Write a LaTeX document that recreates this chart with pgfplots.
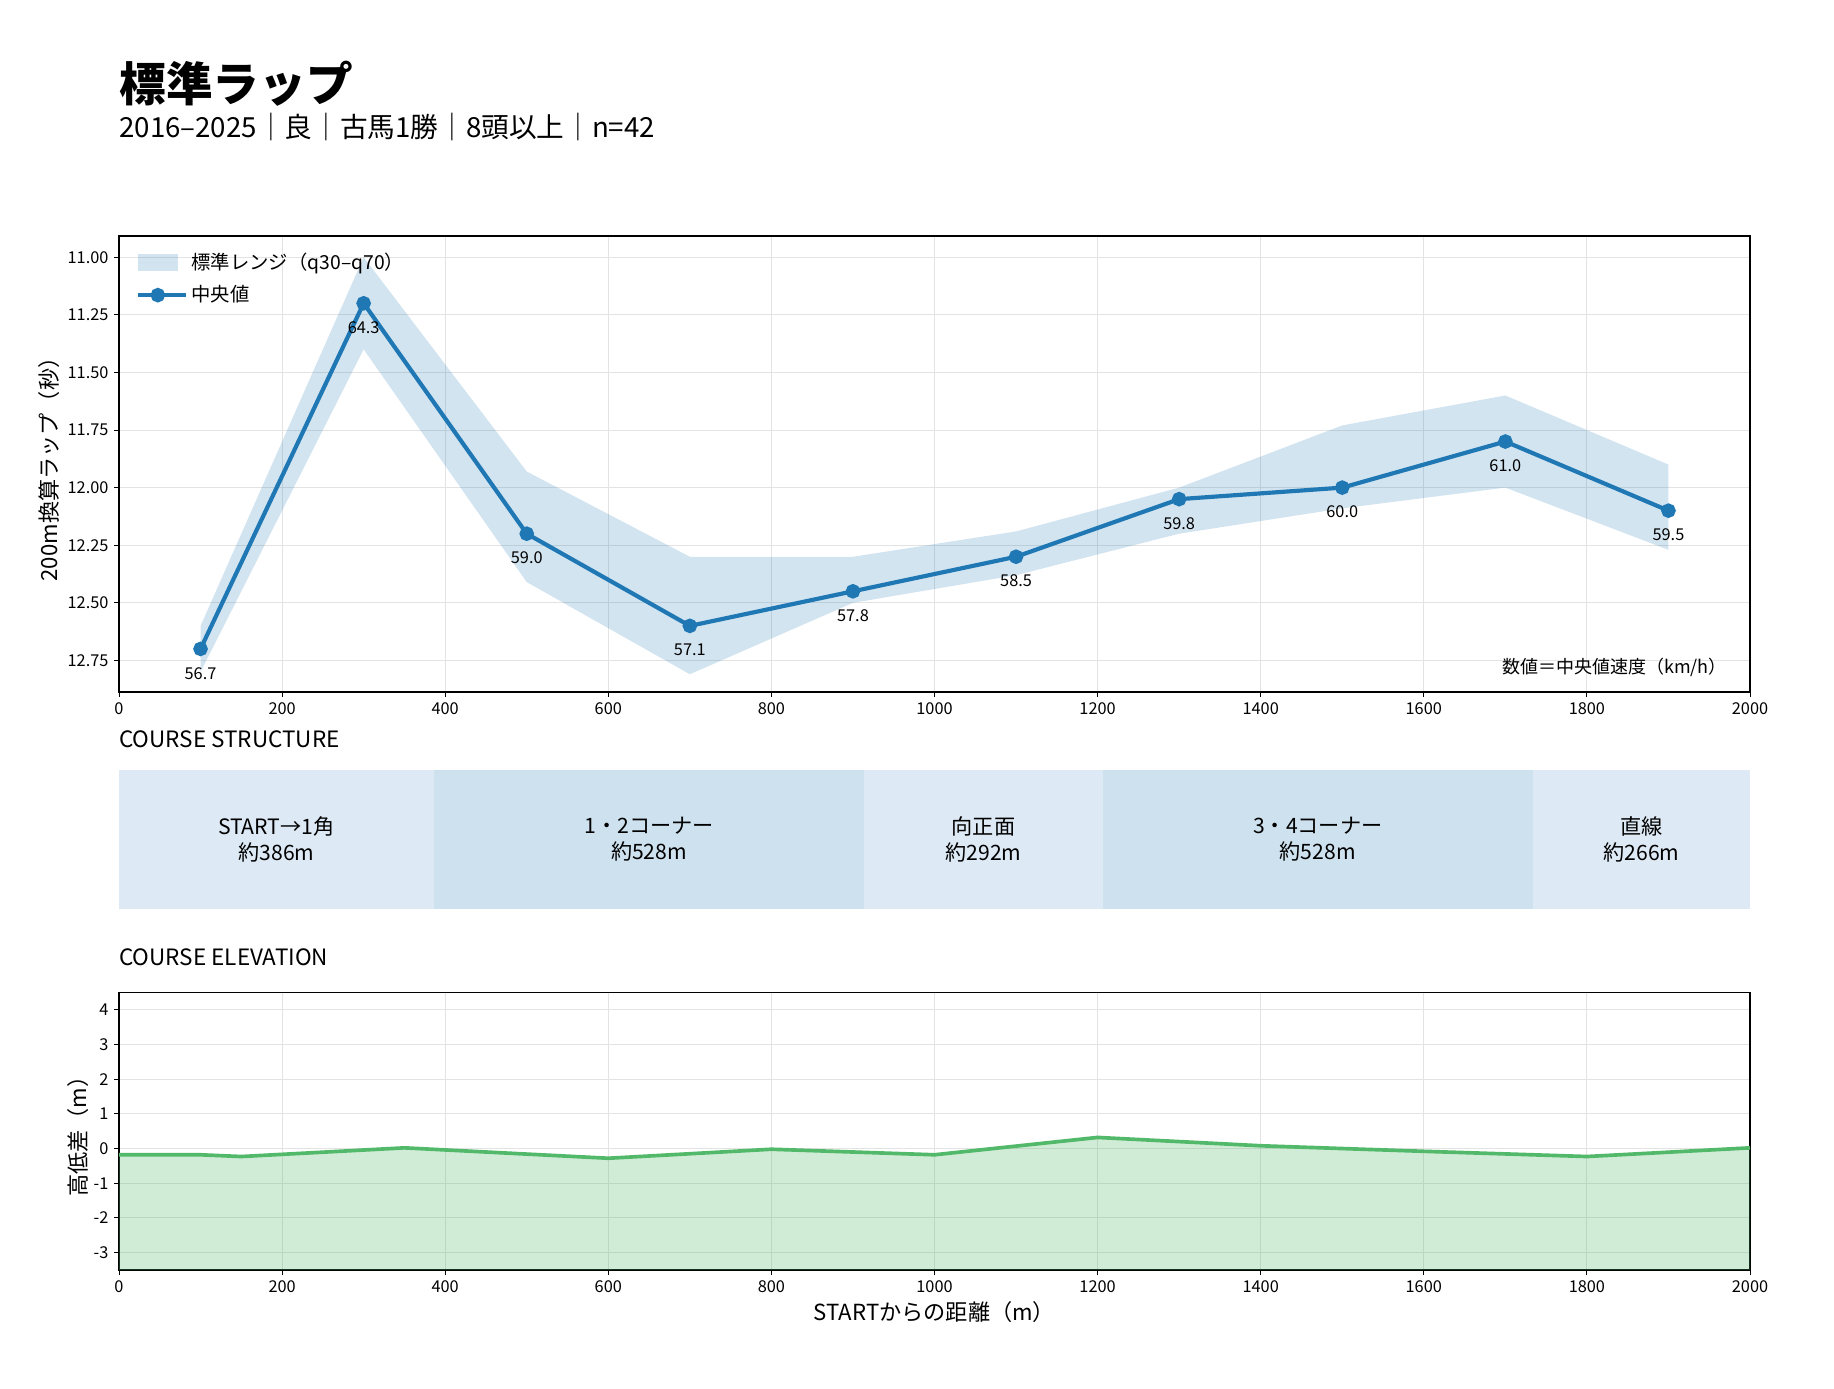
\documentclass[border=0pt]{standalone}
\usepackage{fontspec}
\setmainfont{Noto Sans CJK JP}
\usepackage{pgfplots}
\usepackage{pgfplotstable}
\pgfplotsset{compat=1.18}
\usepgfplotslibrary{fillbetween}

\definecolor{tabblue}{HTML}{1F77B4}
\definecolor{segA}{HTML}{DDE9F4}
\definecolor{segB}{HTML}{CEE1EE}
\definecolor{elev}{HTML}{52B96A}
\definecolor{gridc}{HTML}{E3E3E3}

% lap data: q30 (lo), q70 (hi), median, median speed
\pgfplotstableread{
x    lo     hi     med    spd
100  12.60  12.80  12.70  56.7
300  11.00  11.40  11.20  64.3
500  11.93  12.41  12.20  59.0
700  12.30  12.81  12.60  57.1
900  12.30  12.50  12.45  57.8
1100 12.19  12.38  12.30  58.5
1300 12.00  12.20  12.05  59.8
1500 11.73  12.09  12.00  60.0
1700 11.60  12.00  11.80  61.0
1900 11.90  12.27  12.10  59.5
}\laptable

\pgfplotstableread{
x    h
0    -0.18
100  -0.18
150  -0.23
350   0.02
600  -0.28
800  -0.02
1000 -0.18
1200  0.32
1400  0.08
1600 -0.08
1800 -0.23
2000  0.02
}\elevtable

\pgfplotsset{
  base/.style={
    scale only axis, width=978.6pt,
    xmin=0, xmax=2000, xtick distance=200,
    /pgf/number format/assume math mode=true,
    /pgf/number format/1000 sep={},
    tick label style={font=\fontsize{9.8}{11}\selectfont},
    tick align=outside, major tick length=2.8pt,
    tick style={black, line width=0.6pt},
    xtick pos=left, ytick pos=left,
    axis line style={line width=0.8pt},
    grid=major, major grid style={gridc, line width=0.6pt},
    label style={font=\fontsize{13.3}{15}\selectfont},
  },
  bandleg/.style={legend image code/.code={\fill[##1] (0pt,-5pt) rectangle (24pt,5pt); \path (0pt,0pt) -- (29pt,0pt);}},
  lineleg/.style={legend image code/.code={\draw[mark repeat=2,mark phase=2,##1] plot coordinates {(0pt,0pt) (12pt,0pt) (24pt,0pt)}; \path (0pt,0pt) -- (29pt,0pt);}},
}

\begin{document}
\begin{tikzpicture}
\path (0,0) rectangle (1100.4pt,-832.8pt);

\node[anchor=base west, inner sep=0pt, font=\fontsize{28}{32}\selectfont\bfseries] at (71.4pt,-60.6pt) {標準ラップ};
\node[anchor=base west, inner sep=0pt, font=\fontsize{16.6}{19}\selectfont] at (71.4pt,-82.2pt) {2016–2025｜良｜古馬1勝｜8頭以上｜n=42};

% lap chart
\begin{axis}[base,
  at={(71.4pt,-415.2pt)}, anchor=south west, height=273.6pt,
  ymin=10.908, ymax=12.887, y dir=reverse,
  ytick={11,11.25,...,12.8},
  yticklabel style={/pgf/number format/.cd, fixed, fixed zerofill, precision=2},
  ylabel={200m換算ラップ（秒）},
  ylabel style={at={(axis description cs:-0.0429,0.5)}, anchor=center},
  legend style={at={(0.007,0.978)}, anchor=north west, draw=none, fill=none,
    font=\fontsize{11.6}{13}\selectfont, row sep=4.2pt},
  legend cell align=left,
]
\addplot[name path=lo, draw=none, forget plot] table[x=x, y=lo] {\laptable};
\addplot[name path=hi, draw=none, forget plot] table[x=x, y=hi] {\laptable};
\addplot[fill=tabblue, fill opacity=0.2, draw=none, bandleg]
  fill between[of=lo and hi];
\addlegendentry{標準レンジ（q30–q70）}
\addplot[tabblue, line width=2.5pt, mark=*, mark size=3.1pt, lineleg,
  point meta=explicit symbolic,
  nodes near coords,
  every node near coord/.append style={font=\fontsize{9.8}{11}\selectfont, text=black, anchor=center, yshift=-14.6pt}]
  table[x=x, y=med, meta=spd] {\laptable};
\addlegendentry{中央値}
\node[anchor=east, inner sep=0pt, font=\fontsize{10.8}{12}\selectfont] at (axis description cs:0.986,0.053) {数値＝中央値速度（km/h）};
\end{axis}

\node[anchor=base west, inner sep=0pt, font=\fontsize{13.5}{16}\selectfont] at (71.4pt,-448.2pt) {COURSE STRUCTURE};

% course structure band
\begin{axis}[
  at={(71.4pt,-545.2pt)}, anchor=south west, scale only axis,
  width=978.6pt, height=83.2pt,
  xmin=0, xmax=2000, ymin=0, ymax=1, hide axis,
]
\addplot[fill=segA, draw=none] coordinates {(0,0) (0,1) (386,1) (386,0)};
\addplot[fill=segB, draw=none] coordinates {(386,0) (386,1) (914,1) (914,0)};
\addplot[fill=segA, draw=none] coordinates {(914,0) (914,1) (1206,1) (1206,0)};
\addplot[fill=segB, draw=none] coordinates {(1206,0) (1206,1) (1734,1) (1734,0)};
\addplot[fill=segA, draw=none] coordinates {(1734,0) (1734,1) (2000,1) (2000,0)};
\tikzset{seg/.style={align=center, font=\fontsize{12.7}{15.4}\selectfont}}
\node[seg] at (axis cs:193,0.5) {START→1角\\約386m};
\node[seg] at (axis cs:650,0.5) {1・2コーナー\\約528m};
\node[seg] at (axis cs:1060,0.5) {向正面\\約292m};
\node[seg] at (axis cs:1470,0.5) {3・4コーナー\\約528m};
\node[seg] at (axis cs:1867,0.5) {直線\\約266m};
\end{axis}

\node[anchor=base west, inner sep=0pt, font=\fontsize{13.5}{16}\selectfont] at (71.4pt,-579pt) {COURSE ELEVATION};

% elevation
\begin{axis}[base, set layers,
  at={(71.4pt,-762pt)}, anchor=south west, height=166.6pt,
  ymin=-3.5, ymax=4.5, ytick={-3,...,4},
  xlabel={STARTからの距離（m）},
  xlabel style={at={(axis description cs:0.5,-0.151)}, anchor=center},
  ylabel={高低差（m）},
  ylabel style={at={(axis description cs:-0.0251,0.5)}, anchor=center},
]
\addplot[name path=elev, elev, line width=2.2pt] table[x=x, y=h] {\elevtable};
\addplot[name path=floor, draw=none, forget plot] coordinates {(0,-3.5) (2000,-3.5)};
\addplot[fill=elev, fill opacity=0.27, draw=none] fill between[of=elev and floor];
\end{axis}
\end{tikzpicture}
\end{document}
